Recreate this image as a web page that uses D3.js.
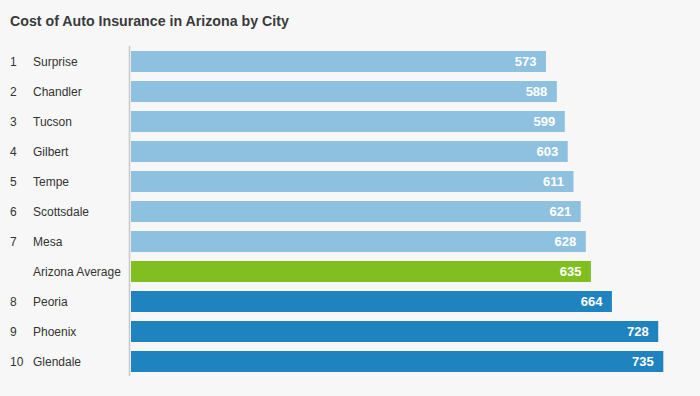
<!DOCTYPE html>
<html><head><meta charset="utf-8">
<script src="https://cdn.jsdelivr.net/npm/d3@7"></script>
<style>
html,body{margin:0;padding:0;background:#f7f7f7;}
svg{display:block;font-family:"Liberation Sans",Arial,Helvetica,sans-serif;}
</style></head>
<body>
<svg id="chart" width="700" height="396"></svg>
<script>
const title = "Cost of Auto Insurance in Arizona by City";
const ranks = ["1","2","3","4","5","6","7","","8","9","10"];
const cities = ["Surprise","Chandler","Tucson","Gilbert","Tempe","Scottsdale","Mesa","Arizona Average","Peoria","Phoenix","Glendale"];
const values = [573,588,599,603,611,621,628,635,664,728,735];
const groups = ["low","low","low","low","low","low","low","avg","high","high","high"];

const colorMap = {low:"#8ec0df", avg:"#80bf1f", high:"#1e83bf"};

const svg = d3.select("#chart");
svg.append("rect").attr("width",700).attr("height",396).attr("fill","#f7f7f7");

svg.append("text").attr("x",10).attr("y",26)
  .attr("font-size",14.2).attr("font-weight","bold").attr("fill","#3a3a3a")
  .text(title);

const x = d3.scaleLinear().domain([0,735]).range([131,663.3]);
const y = d3.scaleBand().domain(cities).range([46.5,376.5]).paddingInner(0.3).paddingOuter(0.15);

const data = cities.map((c,i)=>({city:c, rank:ranks[i], value:values[i], group:groups[i]}));

svg.selectAll("rect.bar").data(data).enter().append("rect")
  .attr("class","bar")
  .attr("x",x(0)).attr("y",d=>y(d.city))
  .attr("width",d=>x(d.value)-x(0)).attr("height",y.bandwidth())
  .attr("fill",d=>colorMap[d.group]);

svg.selectAll("text.val").data(data).enter().append("text")
  .attr("class","val")
  .attr("x",d=>x(d.value)-9.5).attr("y",d=>y(d.city)+y.bandwidth()/2)
  .attr("dy","0.36em").attr("text-anchor","end")
  .attr("font-size",13).attr("font-weight","bold").attr("fill","#fff")
  .text(d=>d.value);

svg.selectAll("text.rank").data(data).enter().append("text")
  .attr("class","rank")
  .attr("x",10).attr("y",d=>y(d.city)+y.bandwidth()/2)
  .attr("dy","0.36em").attr("font-size",12).attr("fill","#333")
  .text(d=>d.rank);

svg.selectAll("text.city").data(data).enter().append("text")
  .attr("class","city")
  .attr("x",33).attr("y",d=>y(d.city)+y.bandwidth()/2)
  .attr("dy","0.36em").attr("font-size",12).attr("fill","#333")
  .text(d=>d.city);

svg.append("line").attr("x1",129.5).attr("x2",129.5).attr("y1",46).attr("y2",376)
  .attr("stroke","#c8c8c8").attr("stroke-width",1.5);
</script>
</body></html>
